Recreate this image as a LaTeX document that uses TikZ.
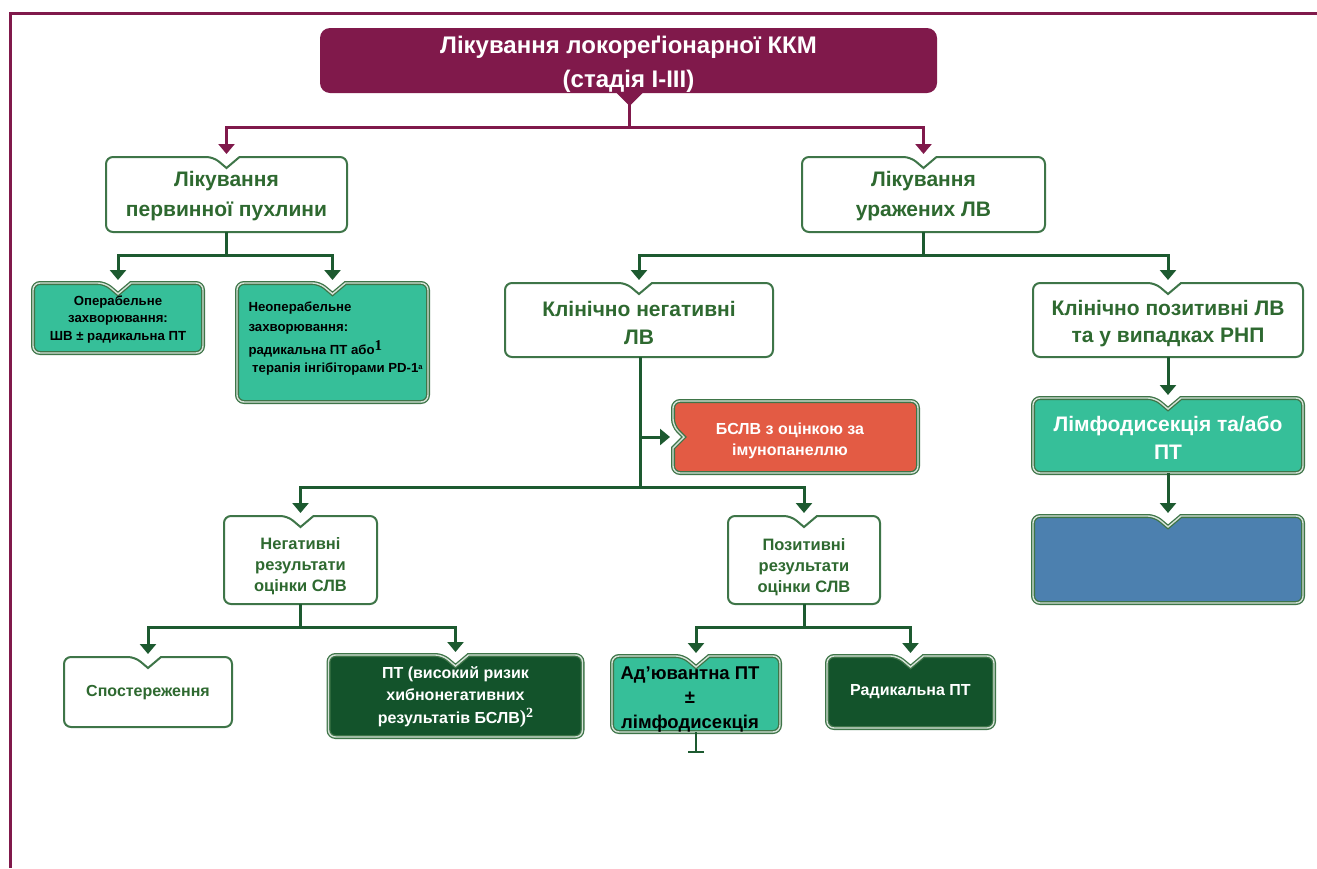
\documentclass[tikz,border=0pt]{standalone}
\usepackage{fontspec}
\setmainfont{Liberation Sans}
\newfontfamily\serifsup{Liberation Serif}
\usetikzlibrary{arrows.meta,calc}
\definecolor{maroon}{HTML}{80194B}
\definecolor{gtext}{HTML}{2E6930}
\definecolor{gline}{HTML}{1D5A30}
\definecolor{gborder}{HTML}{3E7548}
\definecolor{tealbox}{HTML}{36BF99}
\definecolor{dgreen}{HTML}{13532B}
\definecolor{redbox}{HTML}{E35B44}
\definecolor{bluebox}{HTML}{4C80AF}
\definecolor{lightedge}{HTML}{D6E2D8}
\newcommand\topnotch[4]{%
  \filldraw[draw=#2, fill=#3, line width=2pt, rounded corners=7pt, #4]
    (#1.south west) -- (#1.north west) -- ($(#1.north)+(-13,0)$) [sharp corners]
    -- ($(#1.north)+(0,11)$) -- ($(#1.north)+(13,0)$) [rounded corners=7pt]
    -- (#1.north east) -- (#1.south east) -- cycle;}
\newcommand\leftnotch[4]{%
  \filldraw[draw=#2, fill=#3, line width=2pt, rounded corners=7pt, #4]
    (#1.north east) -- (#1.north west) -- ($(#1.west)+(0,-11)$) [sharp corners]
    -- ($(#1.west)+(11,0)$) -- ($(#1.west)+(0,11)$) [rounded corners=7pt]
    -- (#1.south west) -- (#1.south east) -- cycle;}
\begin{document}
\begin{tikzpicture}[x=1pt,y=-1pt,
  fr/.style={rectangle, inner sep=0pt, outer sep=0pt},
  dbl/.style={line width=1.3pt, double=lightedge, double distance=1.4pt},
  conn/.style={draw=gline, line width=3pt},
  arr/.style={conn, -{Triangle[width=16pt,length=10pt]}, shorten >=3pt},
  mconn/.style={draw=maroon, line width=3pt},
  marr/.style={mconn, -{Triangle[width=16pt,length=10pt]}, shorten >=3pt},
  tbig/.style={font=\bfseries\fontsize{21}{30}\selectfont, align=center},
  tmid/.style={font=\bfseries\fontsize{16}{21}\selectfont, align=center},
  tsmall/.style={font=\bfseries\fontsize{13.2}{17.5}\selectfont, align=center},
]
\useasboundingbox (0,0) rectangle (1317,868);
\fill[white] (0,0) rectangle (1317,868);
% frame
\draw[maroon, line width=3pt] (10,868) -- (10,13) -- (1320,13);

% box frames
\node[fr, minimum width=617pt, minimum height=65pt] (title) at (628.5,60.5) {};
\node[fr, minimum width=241pt, minimum height=75pt] (b1) at (226.5,194.5) {};
\node[fr, minimum width=243pt, minimum height=75pt] (b2) at (923.5,194.5) {};
\node[fr, minimum width=170pt, minimum height=70pt] (op) at (118,318) {};
\node[fr, minimum width=191pt, minimum height=119pt] (nop) at (332.5,342.5) {};
\node[fr, minimum width=268pt, minimum height=74pt] (cn) at (639,320) {};
\node[fr, minimum width=270pt, minimum height=74pt] (cp) at (1168,320) {};
\node[fr, minimum width=245pt, minimum height=72pt] (red) at (795.5,437) {};
\node[fr, minimum width=270pt, minimum height=75pt] (limf) at (1168,435.5) {};
\node[fr, minimum width=270pt, minimum height=87pt] (blue) at (1168,559.5) {};
\node[fr, minimum width=153pt, minimum height=88pt] (neg) at (300.5,560) {};
\node[fr, minimum width=152pt, minimum height=88pt] (pos) at (804,560) {};
\node[fr, minimum width=168pt, minimum height=70pt] (obs) at (148,692) {};
\node[fr, minimum width=254pt, minimum height=82pt] (ptb) at (455.5,696) {};
\node[fr, minimum width=168pt, minimum height=76pt] (ad) at (696,694) {};
\node[fr, minimum width=167pt, minimum height=72pt] (rad) at (910.5,692) {};

% title shape
\fill[maroon, rounded corners=10pt] (title.south west) rectangle (title.north east);
\fill[maroon] ($(title.south)+(-13,-1)$) -- ($(title.south)+(1,13)$) -- ($(title.south)+(15,-1)$) -- cycle;

\topnotch{b1}{gborder}{white}{}
\topnotch{b2}{gborder}{white}{}
\topnotch{op}{gborder}{tealbox}{dbl}
\topnotch{nop}{gborder}{tealbox}{dbl}
\topnotch{cn}{gborder}{white}{}
\topnotch{cp}{gborder}{white}{}
\leftnotch{red}{gborder}{redbox}{dbl}
\topnotch{limf}{gborder}{tealbox}{dbl}
\topnotch{blue}{gborder}{bluebox}{dbl}
\topnotch{neg}{gborder}{white}{}
\topnotch{pos}{gborder}{white}{}
\topnotch{obs}{gborder}{white}{}
\topnotch{ptb}{gborder}{dgreen}{dbl}
\topnotch{ad}{gborder}{tealbox}{dbl}
\topnotch{rad}{gborder}{dgreen}{dbl}

% junctions
\coordinate (jt) at (629.5,127);
\coordinate (j1) at (226.5,255);
\coordinate (j2) at (923.5,255);
\coordinate (j3) at (640,487);
\coordinate (j4) at (300.5,627);
\coordinate (j5) at (804,627);
\coordinate (adend) at (696,753);

% connectors
\draw[mconn] (title.south -| jt) -- (jt);
\draw[marr] (jt) -| (b1.north);
\draw[marr] (jt) -| (b2.north);
\draw[conn] (b1.south) -- (j1);
\draw[arr] (j1) -| (op.north);
\draw[arr] (j1) -| (nop.north);
\draw[conn] (b2.south) -- (j2);
\draw[arr] (j2) -| (cn.north);
\draw[arr] (j2) -| (cp.north);
\draw[conn] (j3 |- cn.south) -- (j3);
\draw[arr] (j3 |- red.west) -- (red.west);
\draw[arr] (j3) -| (neg.north);
\draw[arr] (j3) -| (pos.north);
\draw[conn] (neg.south) -- (j4);
\draw[arr] (j4) -| (obs.north);
\draw[arr] (j4) -| (ptb.north);
\draw[conn] (pos.south) -- (j5);
\draw[arr] (j5) -| (ad.north);
\draw[arr] (j5) -| (rad.north);
\draw[draw=gline, line width=2.5pt, -{Bar[width=16pt,line width=2pt]}] (ad.south) -- (adend);
\draw[arr] (cp.south) -- (limf.north);
\draw[arr] (limf.south) -- (blue.north);

% texts
\node[font=\bfseries\fontsize{24}{34}\selectfont, align=center, text=white] (ttitle) at (628.5,64) {Лікування локореґіонарної ККМ\\(стадія I-III)};
\node[tbig, text=gtext] (tb1) at (226.5,196) {Лікування\\первинної пухлини};
\node[tbig, text=gtext] (tb2) at (923.5,196) {Лікування\\уражених ЛВ};
\node[tsmall, text=black] (top) at (118,319.5) {Операбельне\\захворювання:\\ШВ ± радикальна ПТ};
\node[font=\bfseries\fontsize{13.2}{19.5}\selectfont, align=left, anchor=west, text=black] (tnop) at (245,338.5)
  {Неоперабельне\\захворювання:\\[4pt]радикальна ПТ або\raisebox{4pt}{\serifsup\bfseries\fontsize{15}{15}\selectfont 1}\\[-2pt]
   \ терапія інгібіторами PD-1\raisebox{3pt}{\fontsize{7.5}{7.5}\selectfont a}};
\node[tbig, font=\bfseries\fontsize{21}{28}\selectfont, text=gtext] (tcn) at (639,323) {Клінічно негативні\\ЛВ};
\node[tbig, font=\bfseries\fontsize{21}{27}\selectfont, text=gtext] (tcp) at (1168,323.5) {Клінічно позитивні ЛВ\\та у випадках РНП};
\node[tmid, text=white] (tred) at (790,440.5) {БСЛВ з оцінкою за\\імунопанеллю};
\node[tbig, font=\bfseries\fontsize{21}{28}\selectfont, text=white] (tlimf) at (1168,438) {Лімфодисекція та/або\\ПТ};
\node[tmid, font=\bfseries\fontsize{16.5}{21}\selectfont, text=gtext] (tneg) at (300.5,566) {Негативні\\результати\\оцінки СЛВ};
\node[tmid, font=\bfseries\fontsize{16.5}{21}\selectfont, text=gtext] (tpos) at (804,567) {Позитивні\\результати\\оцінки СЛВ};
\node[tmid, text=gtext] (tobs) at (148,693) {Спостереження};
\node[tmid, font=\bfseries\fontsize{16}{22}\selectfont, text=white] (tptb) at (455.5,697) {ПТ (високий ризик\\хибнонегативних\\[1pt]результатів БСЛВ{\serifsup\fontsize{19}{19}\selectfont)}\raisebox{6pt}{\serifsup\bfseries\fontsize{14}{14}\selectfont 2}};
\node[font=\bfseries\fontsize{18.5}{24.5}\selectfont, align=center, text=black] (tad) at (690,699.5) {Ад'ювантна ПТ\\±\\лімфодисекція};
\node[tmid, text=white] (trad) at (910.5,692) {Радикальна ПТ};
\end{tikzpicture}
\end{document}
